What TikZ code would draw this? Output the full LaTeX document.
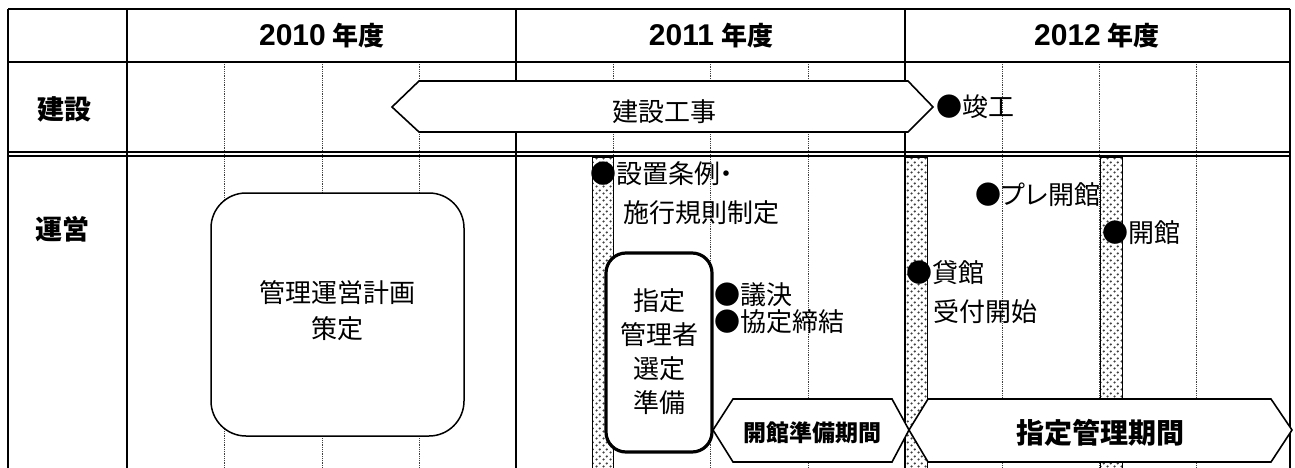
\documentclass[tikz,border=0pt]{standalone}
\usepackage{fontspec}
\setmainfont{Noto Sans CJK JP}
\newfontfamily\jpp{Noto Sans CJK JP}[RawFeature=+palt]
\newfontfamily\arialfont{Liberation Sans}
\usetikzlibrary{patterns.meta}
\tikzdeclarepattern{
  name=bardots,
  type=uncolored,
  bottom left={(0pt,0pt)},
  top right={(7pt,7pt)},
  tile size={(7pt,7pt)},
  code={
    \fill (1.75pt,1.75pt) circle (1.3pt);
    \fill (5.25pt,5.25pt) circle (1.3pt);
  }
}
\tikzset{
  frame/.style={line width=2pt},
  dline/.style={line width=1.4pt},
  gridline/.style={densely dotted, line width=0.8pt, black!75},
  hexa/.style={draw, line width=1.6pt, fill=white, line join=miter},
  bar/.style={draw, line width=0.9pt, pattern=bardots, pattern color=black!75},
  rbox/.style={draw, line width=1.5pt, fill=white, rounded corners=35pt},
  tbox/.style={draw, line width=3.2pt, fill=white, rounded corners=20pt},
  txt/.style={font=\fontsize{26}{32}\selectfont, inner sep=0pt},
  btxt/.style={font=\bfseries\fontsize{27}{32}\selectfont, inner sep=0pt},
  htxt/.style={font=\bfseries\fontsize{26}{32}\selectfont, inner sep=0pt},
  evt/.style={txt, anchor=west},
}
\newcommand{\yearlabel}[1]{{\arialfont\bfseries\fontsize{30}{32}\selectfont #1}\hspace{7pt}年度}
\begin{document}
\begin{tikzpicture}[x=1pt,y=-1pt]
\useasboundingbox (0,0) rectangle (1295,468);
\fill[white] (0,0) rectangle (1295,468);
% quarter grid lines
\foreach \x in {224,322,419,613,710,808,1002,1099,1196}
  \draw[gridline] (\x,62) -- (\x,468);
% shaded bars
\draw[bar] (592,157) rectangle (613,468);
\draw[bar] (905,157) rectangle (927,468);
\draw[bar] (1100,157) rectangle (1122,468);
% frame
\draw[frame] (8,9) -- (1290,9);
\draw[frame] (8,62) -- (1290,62);
\draw[dline] (8,152) -- (1290,152);
\draw[dline] (8,156) -- (1290,156);
\foreach \x in {8,127,516,905,1290}
  \draw[frame] (\x,9) -- (\x,468);
% header
\node[htxt] (y2010) at (322,36) {\yearlabel{2010}};
\node[htxt] (y2011) at (711,36) {\yearlabel{2011}};
\node[htxt] (y2012) at (1097,36) {\yearlabel{2012}};
\node[btxt] (kensetsu) at (64,109) {建設};
\node[btxt] (unei) at (62,229) {運営};
% construction
\draw[hexa] (392,107) -- (419,81) -- (908,81) -- (933,107) -- (908,132) -- (419,132) -- cycle;
\node[txt] (koji) at (664,112) {建設工事};
\node[evt] (shunko) at (936,107) {●竣工};
% operations
\draw[rbox] (211,193) rectangle (464,436);
\node[txt, align=center, font=\fontsize{26}{36}\selectfont] (keikaku) at (337,311) {管理運営計画\\策定};
\draw[tbox] (606,253) rectangle (712,452);
\node[txt, align=center, font=\fontsize{26}{34}\selectfont] (sentei) at (659,352) {指定\\管理者\\選定\\準備};
\node[evt] (jorei) at (590,174) {●設置条例{\jpp ・}};
\node[evt] (kisoku) at (623,213) {施行規則制定};
\node[evt] (giketsu) at (714,295) {●議決};
\node[evt] (kyotei) at (714,322) {●協定締結};
\node[evt] (pre) at (975,195) {●{\jpp プレ}開館};
\node[evt] (kaikan) at (1102,233) {●開館};
\node[evt] (kashi) at (906,273) {●貸館};
\node[evt] (uketsuke) at (933,312) {受付開始};
% period arrows
\draw[hexa] (713,430) -- (733,399) -- (892,399) -- (909,430) -- (892,462) -- (733,462) -- cycle;
\node[btxt, font=\bfseries\fontsize{23}{28}\selectfont] (junbi) at (812,433) {開館準備期間};
\draw[hexa] (909,430) -- (928,399) -- (1271,399) -- (1292,430) -- (1271,462) -- (928,462) -- cycle;
\node[btxt, font=\bfseries\fontsize{28}{32}\selectfont] (shitei) at (1100,433) {指定管理期間};
\end{tikzpicture}
\end{document}
